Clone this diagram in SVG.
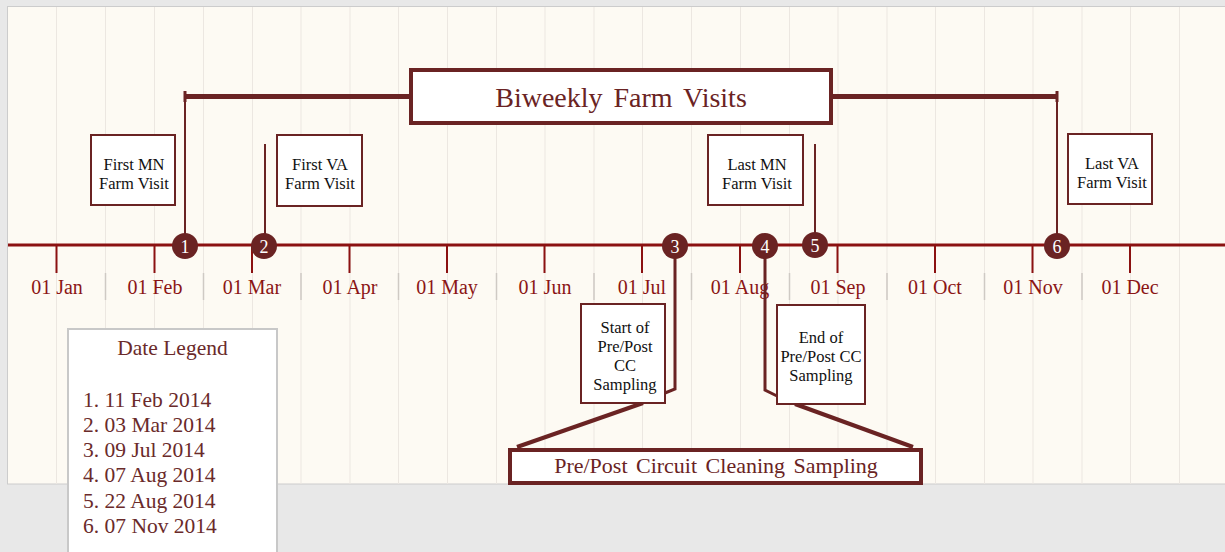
<svg xmlns="http://www.w3.org/2000/svg" width="1225" height="552" viewBox="0 0 1225 552">
<defs>
<style>
.grid{stroke:#ece7e1;stroke-width:1}
.sep{stroke:#cfcac4;stroke-width:1.5}
.axis{stroke:#8b1111;stroke-width:3}
.tick{stroke:#8b1111;stroke-width:2}
.mon{font-family:"Liberation Serif","Times New Roman",serif;font-size:20px;fill:#8b1515;text-anchor:middle}
.conn{stroke:#6a2323;fill:none}
.dot{fill:#6a2323}
.num{font-family:"Liberation Serif","Times New Roman",serif;font-size:18px;fill:#ffffff;text-anchor:middle}
.box{fill:#ffffff;stroke:#6a2323;stroke-width:2}
.bigbox{fill:#ffffff;stroke:#6a2323;stroke-width:4}
.lbl{font-family:"Liberation Serif","Times New Roman",serif;font-size:16.5px;fill:#111111;text-anchor:middle}
.title{font-family:"Liberation Serif","Times New Roman",serif;fill:#6a2323;text-anchor:middle}
.leg{font-family:"Liberation Serif","Times New Roman",serif;font-size:21.5px;fill:#6a2a2a}
</style>
</defs>
<rect x="0" y="0" width="1225" height="552" fill="#e8e8e8"/>
<rect x="7.5" y="6.5" width="1220" height="477.5" fill="#fdfaf3" stroke="#cccccc" stroke-width="1"/>
<g id="grid">
<line class="grid" x1="56.5" y1="7" x2="56.5" y2="484"/>
<line class="grid" x1="105.5" y1="7" x2="105.5" y2="484"/>
<line class="grid" x1="154.5" y1="7" x2="154.5" y2="484"/>
<line class="grid" x1="203.5" y1="7" x2="203.5" y2="484"/>
<line class="grid" x1="252.5" y1="7" x2="252.5" y2="484"/>
<line class="grid" x1="301" y1="7" x2="301" y2="484"/>
<line class="grid" x1="350" y1="7" x2="350" y2="484"/>
<line class="grid" x1="398.5" y1="7" x2="398.5" y2="484"/>
<line class="grid" x1="447.5" y1="7" x2="447.5" y2="484"/>
<line class="grid" x1="496.5" y1="7" x2="496.5" y2="484"/>
<line class="grid" x1="545" y1="7" x2="545" y2="484"/>
<line class="grid" x1="594" y1="7" x2="594" y2="484"/>
<line class="grid" x1="642.5" y1="7" x2="642.5" y2="484"/>
<line class="grid" x1="691.5" y1="7" x2="691.5" y2="484"/>
<line class="grid" x1="740.5" y1="7" x2="740.5" y2="484"/>
<line class="grid" x1="789.5" y1="7" x2="789.5" y2="484"/>
<line class="grid" x1="838" y1="7" x2="838" y2="484"/>
<line class="grid" x1="887" y1="7" x2="887" y2="484"/>
<line class="grid" x1="935.5" y1="7" x2="935.5" y2="484"/>
<line class="grid" x1="984.5" y1="7" x2="984.5" y2="484"/>
<line class="grid" x1="1033" y1="7" x2="1033" y2="484"/>
<line class="grid" x1="1082" y1="7" x2="1082" y2="484"/>
<line class="grid" x1="1130.5" y1="7" x2="1130.5" y2="484"/>
<line class="grid" x1="1179.5" y1="7" x2="1179.5" y2="484"/>
</g>
<g id="axis">
<line class="sep" x1="105.5" y1="273" x2="105.5" y2="300"/>
<line class="sep" x1="203.5" y1="273" x2="203.5" y2="300"/>
<line class="sep" x1="301" y1="273" x2="301" y2="300"/>
<line class="sep" x1="398.5" y1="273" x2="398.5" y2="300"/>
<line class="sep" x1="496.5" y1="273" x2="496.5" y2="300"/>
<line class="sep" x1="594" y1="273" x2="594" y2="300"/>
<line class="sep" x1="691.5" y1="273" x2="691.5" y2="300"/>
<line class="sep" x1="789.5" y1="273" x2="789.5" y2="300"/>
<line class="sep" x1="887" y1="273" x2="887" y2="300"/>
<line class="sep" x1="984.5" y1="273" x2="984.5" y2="300"/>
<line class="sep" x1="1082" y1="273" x2="1082" y2="300"/>
<line class="axis" x1="8" y1="245" x2="1225" y2="245"/>
<line class="tick" x1="56.5" y1="245" x2="56.5" y2="273"/>
<line class="tick" x1="154.5" y1="245" x2="154.5" y2="273"/>
<line class="tick" x1="252" y1="245" x2="252" y2="273"/>
<line class="tick" x1="349.5" y1="245" x2="349.5" y2="273"/>
<line class="tick" x1="447" y1="245" x2="447" y2="273"/>
<line class="tick" x1="544.5" y1="245" x2="544.5" y2="273"/>
<line class="tick" x1="642" y1="245" x2="642" y2="273"/>
<line class="tick" x1="740" y1="245" x2="740" y2="273"/>
<line class="tick" x1="837.5" y1="245" x2="837.5" y2="273"/>
<line class="tick" x1="935" y1="245" x2="935" y2="273"/>
<line class="tick" x1="1032.5" y1="245" x2="1032.5" y2="273"/>
<line class="tick" x1="1130" y1="245" x2="1130" y2="273"/>
<text class="mon" x="57" y="294">01 Jan</text>
<text class="mon" x="155" y="294">01 Feb</text>
<text class="mon" x="252" y="294">01 Mar</text>
<text class="mon" x="350" y="294">01 Apr</text>
<text class="mon" x="447" y="294">01 May</text>
<text class="mon" x="545" y="294">01 Jun</text>
<text class="mon" x="642" y="294">01 Jul</text>
<text class="mon" x="740" y="294">01 Aug</text>
<text class="mon" x="838" y="294">01 Sep</text>
<text class="mon" x="935" y="294">01 Oct</text>
<text class="mon" x="1033" y="294">01 Nov</text>
<text class="mon" x="1130" y="294">01 Dec</text>
</g>
<g id="connectors">
<line class="conn" stroke-width="5" x1="185" y1="96.5" x2="1057" y2="96.5"/>
<line class="conn" stroke-width="3" x1="185" y1="91" x2="185" y2="102"/>
<line class="conn" stroke-width="3" x1="1057" y1="91" x2="1057" y2="102"/>
<line class="conn" stroke-width="2" x1="185" y1="96" x2="185" y2="240"/>
<line class="conn" stroke-width="2" x1="1057" y1="96" x2="1057" y2="240"/>
<line class="conn" stroke-width="2" x1="265" y1="144" x2="265" y2="240"/>
<line class="conn" stroke-width="2" x1="815" y1="144" x2="815" y2="240"/>
<polyline class="conn" stroke-width="3" points="675,250 675,389 665,393"/>
<polyline class="conn" stroke-width="3" points="765,250 765,390 777,396"/>
<line class="conn" stroke-width="4" x1="643" y1="403" x2="517" y2="447"/>
<line class="conn" stroke-width="4" x1="795" y1="404" x2="913" y2="447"/>
</g>
<g id="event1"><circle class="dot" cx="185" cy="246" r="13"/><text class="num" x="185" y="253">1</text></g>
<g id="event2"><circle class="dot" cx="264" cy="246" r="13"/><text class="num" x="264" y="253">2</text></g>
<g id="event3"><circle class="dot" cx="675" cy="246" r="13"/><text class="num" x="675" y="253">3</text></g>
<g id="event4"><circle class="dot" cx="765" cy="246" r="13"/><text class="num" x="765" y="253">4</text></g>
<g id="event5"><circle class="dot" cx="815" cy="245" r="13"/><text class="num" x="815" y="252">5</text></g>
<g id="event6"><circle class="dot" cx="1057" cy="246" r="13"/><text class="num" x="1057" y="253">6</text></g>
<g id="biweekly">
<rect class="bigbox" x="411" y="70" width="420" height="53"/>
<text class="title" x="621" y="107" font-size="28" word-spacing="4">Biweekly Farm Visits</text>
</g>
<g id="first-mn">
<rect class="box" x="91" y="135" width="84" height="70"/>
<text class="lbl" x="134" y="170">First MN</text>
<text class="lbl" x="134" y="189">Farm Visit</text>
</g>
<g id="first-va">
<rect class="box" x="277" y="135" width="85" height="71"/>
<text class="lbl" x="320" y="170">First VA</text>
<text class="lbl" x="320" y="189">Farm Visit</text>
</g>
<g id="last-mn">
<rect class="box" x="708" y="135" width="95" height="70"/>
<text class="lbl" x="757" y="170">Last MN</text>
<text class="lbl" x="757" y="189">Farm Visit</text>
</g>
<g id="last-va">
<rect class="box" x="1068" y="134" width="84" height="70"/>
<text class="lbl" x="1112" y="169">Last VA</text>
<text class="lbl" x="1112" y="188">Farm Visit</text>
</g>
<g id="start-cc">
<rect class="box" x="581" y="304" width="84" height="99"/>
<text class="lbl" x="625" y="333">Start of</text>
<text class="lbl" x="625" y="352">Pre/Post</text>
<text class="lbl" x="625" y="371">CC</text>
<text class="lbl" x="625" y="390">Sampling</text>
</g>
<g id="end-cc">
<rect class="box" x="777" y="305" width="88" height="99"/>
<text class="lbl" x="821" y="343">End of</text>
<text class="lbl" x="821" y="362">Pre/Post CC</text>
<text class="lbl" x="821" y="381">Sampling</text>
</g>
<g id="prepost">
<rect class="bigbox" x="510" y="450" width="411" height="33"/>
<text class="title" x="716" y="473" font-size="22" word-spacing="3">Pre/Post Circuit Cleaning Sampling</text>
</g>
<g id="legend">
<rect x="68" y="329" width="209" height="230" fill="#ffffff" stroke="#c8c8c8" stroke-width="2"/>
<text class="leg" x="172.5" y="355" text-anchor="middle" font-size="20">Date Legend</text>
<text class="leg" x="83" y="407">1. 11 Feb 2014</text>
<text class="leg" x="83" y="432">2. 03 Mar 2014</text>
<text class="leg" x="83" y="457">3. 09 Jul 2014</text>
<text class="leg" x="83" y="482">4. 07 Aug 2014</text>
<text class="leg" x="83" y="508">5. 22 Aug 2014</text>
<text class="leg" x="83" y="533">6. 07 Nov 2014</text>
</g>
</svg>
